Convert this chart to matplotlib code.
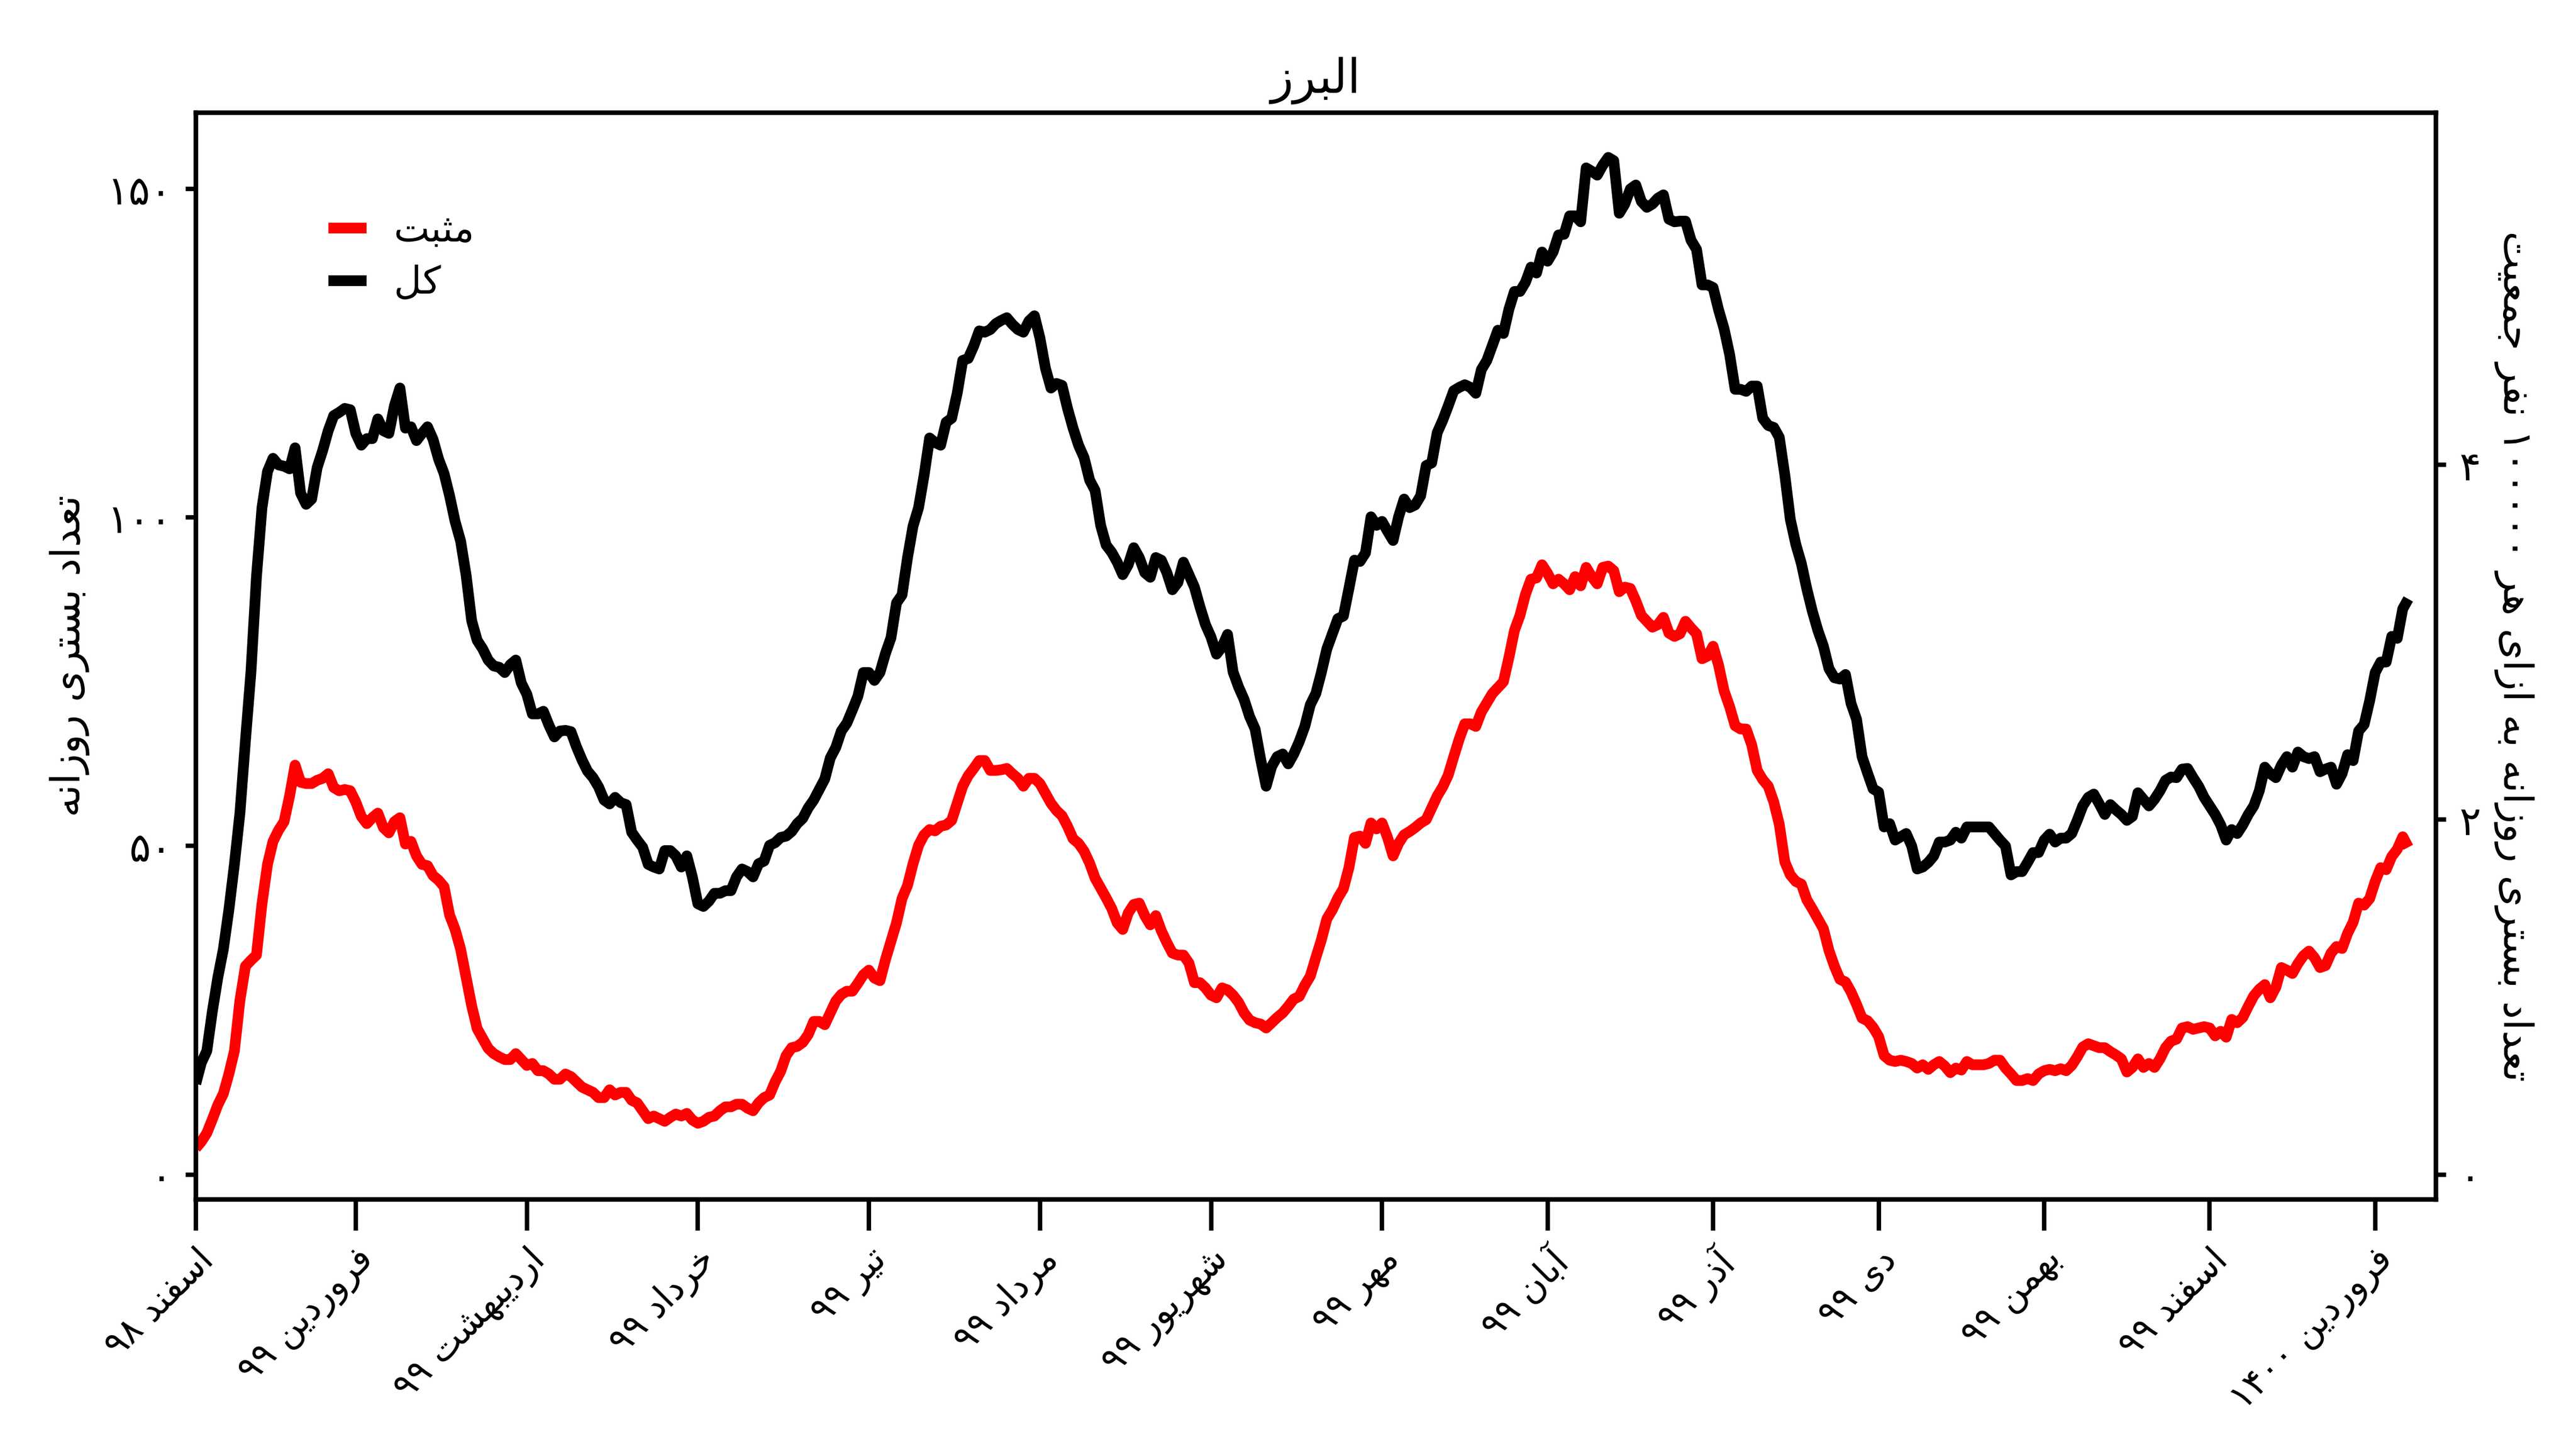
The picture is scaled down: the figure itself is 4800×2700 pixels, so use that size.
import numpy as np
import matplotlib
matplotlib.use("Agg")
import matplotlib.pyplot as plt
from matplotlib.ticker import FixedLocator, FixedFormatter

plt.rcParams['font.family'] = ['DejaVu Sans']

# ---------------- text ----------------
title_text = 'البرز'
ylabel_left = 'تعداد بستری روزانه'
ylabel_right = 'تعداد بستری روزانه به ازای هر ۱۰۰۰۰۰ نفر جمعیت'
legend_positive = 'مثبت'
legend_total = 'کل'
month_labels = ['اسفند ۹۸', 'فروردین ۹۹', 'اردیبهشت ۹۹', 'خرداد ۹۹', 'تیر ۹۹',
                'مرداد ۹۹', 'شهریور ۹۹', 'مهر ۹۹', 'آبان ۹۹', 'آذر ۹۹', 'دی ۹۹',
                'بهمن ۹۹', 'اسفند ۹۹', 'فروردین ۱۴۰۰']
# day index (from 1 Esfand 1398) of each month start
month_start_day = [0, 29, 60, 91, 122, 153, 184, 215, 245, 275, 305, 335, 365, 395]

left_ticks = [0, 50, 100, 150]
right_ticks = [0, 2, 4]
per_100k_factor = 27  # population / 100000

# ---------------- data (daily, day 0 = 1 Esfand 1398) ----------------
total = [
    13.8, 17, 18.8, 24.8, 30, 34.3, 40.3, 47.2, 55, 66,
    76.5, 91, 101.5, 107, 109, 108, 107.8, 107.4, 110.6, 103.7,
    102, 102.8, 107.6, 110.2, 113.2, 115.5, 116, 116.6, 116.4, 112.8,
    111, 112, 112, 115, 113.2, 112.8, 117, 119.7, 113.6, 113.8,
    111.7, 112.8, 113.8, 111.9, 108.9, 106.7, 103.3, 99.4, 96.4, 91.2,
    84.3, 81.3, 80, 78.3, 77.4, 77.2, 76.4, 77.6, 78.3, 74.8,
    73.1, 70.1, 70.1, 70.5, 68.4, 66.6, 67.5, 67.6, 67.4, 65.1,
    63.1, 61.4, 60.4, 59.0, 57.0, 56.4, 57.4, 56.6, 56.3, 52.1,
    50.9, 49.8, 47.2, 46.8, 46.5, 49.3, 49.3, 48.5, 46.8, 48.5,
    45.3, 41.2, 40.8, 41.6, 42.8, 42.8, 43.2, 43.2, 45.3, 46.5,
    46.1, 45.3, 47.3, 47.7, 50.1, 50.5, 51.3, 51.5, 52.2, 53.4,
    54.2, 55.8, 57, 58.6, 60.2, 63.4, 65, 67.5, 68.7, 70.7,
    72.8, 76.4, 76.4, 75.2, 76.4, 79.3, 81.7, 87, 88.2, 93.9,
    98.7, 101.5, 106.4, 112.1, 111.4, 111, 114.5, 115.1, 118.9, 123.9,
    124.2, 126.1, 128.4, 128.2, 128.6, 129.5, 130.0, 130.4, 129.4, 128.6, 128.2,
    129.9, 130.7, 127.3, 122.7, 119.7, 120.4, 120.1, 116.6, 113.6, 111,
    109.1, 105.7, 104.1, 98.8, 95.8, 94.7, 93.2, 91.3, 92.8, 95.4,
    93.9, 91.6, 90.9, 93.9, 93.5, 91.6, 89, 90.1, 93.2, 91.3,
    89.4, 86.4, 83.7, 81.8, 79.2, 80.3, 82.2, 76.5, 74.2, 72.3,
    69.7, 67.8, 63.2, 59.1, 62.1, 63.6, 64, 62.5, 64, 65.9,
    68.2, 71.5, 73.2, 76.4, 80, 82.3, 84.6, 85, 89.2, 93.5,
    93.3, 94.6, 100.1, 98.8, 99.4, 97.9, 96.5, 100.1, 102.8, 101.5,
    101.9, 103.3, 107.9, 108.3, 112.9, 114.8, 117, 119.3, 119.8, 120.2,
    119.8, 118.9, 122.5, 123.9, 126.2, 128.5, 128, 131.7, 134.4, 134.4,
    135.8, 138.1, 137.2, 140.4, 139, 140.4, 143, 143.1, 145.9, 145.9,
    145, 153.2, 152.7, 152.1, 153.6, 154.8, 154.3, 146.3, 147.7, 150,
    150.6, 148.1, 147.2, 147.7, 148.6, 149.1, 145.4, 145, 145.1, 145.1,
    142.2, 140.8, 135.4, 135.4, 135, 131.6, 128.7, 124.8, 119.5, 119.5,
    119.2, 120, 120, 115.1, 114, 113.7, 112.2, 106.5, 99.7, 95.9,
    93, 89.1, 85.7, 82.8, 80.4, 77, 75.6, 75.4, 76.1, 71.7,
    69.3, 63.6, 61.1, 58.7, 58.2, 52.9, 53.4, 50.9, 51.4, 51.9,
    50, 46.5, 46.8, 47.5, 48.5, 50.6, 50.6, 50.9, 52.1, 51.2,
    52.9, 52.9, 52.9, 52.9, 52.9, 51.9, 50.9, 50, 45.6, 46.1, 46.1,
    47.5, 49, 49, 50.9, 51.8, 50.6, 51.2, 51.2, 51.9, 53.9,
    56.1, 57.4, 57.9, 56.4, 54.8, 56.3, 55.5, 54.8, 53.9, 54.5,
    58.1, 57.1, 56.1, 57.1, 58.4, 60, 60.5, 60.4, 61.7, 61.8,
    60.4, 59.1, 57.4, 56.1, 54.8, 53.2, 50.9, 52.5, 51.9, 53.2,
    54.8, 56.1, 58.4, 62, 61, 60.4, 62.3, 63.6, 62, 64.3,
    63.6, 63.3, 63.6, 61.3, 61.7, 62, 59.4, 61, 63.9, 63,
    67.5, 68.5, 72.1, 76.4, 78, 78, 81.9, 81.6, 86.1, 87.6,
]

positive = [
    4, 5, 6.3, 8.4, 10.6, 12.3, 15.3, 18.8, 26.5, 31.7,
    32.6, 33.4, 41.2, 47.2, 50.7, 52.4, 53.7, 57.6, 62.3, 59.7,
    59.5, 59.5, 60, 60.3, 61, 58.9, 58.4, 58.6, 58.4, 56.7,
    54.5, 53.4, 54.3, 55, 52.8, 52, 53.7, 54.3, 50.3, 50.7,
    48.5, 47.2, 47, 45.5, 44.8, 43.8, 39.5, 37.3, 34.3, 30,
    25.7, 22.2, 20.7, 19.2, 18.4, 17.9, 17.5, 17.5, 18.4, 17.5,
    16.6, 16.9, 15.8, 15.8, 15.3, 14.5, 14.5, 15.3, 14.9, 14.1,
    13.3, 12.9, 12.5, 11.7, 11.7, 12.9, 12.1, 12.5, 12.5, 11.3,
    10.9, 9.7, 8.5, 8.9, 8.5, 8.1, 8.7, 9.2, 8.9, 9.3,
    8.3, 7.8, 8.1, 8.7, 8.9, 9.7, 10.3, 10.3, 10.7, 10.7,
    10.1, 9.7, 10.9, 11.7, 12.1, 14.1, 15.7, 18.1, 19.3, 19.5,
    20.1, 21.3, 23.3, 23.3, 22.8, 24.6, 26.4, 27.4, 27.9, 27.9,
    29.1, 30.4, 31.1, 29.9, 29.5, 32.7, 35.5, 38.3, 42.0, 44.0,
    47.3, 50.1, 51.7, 52.5, 52.3, 53, 53.2, 53.9, 56.5, 59.1,
    60.7, 61.8, 63, 63, 61.5, 61.5, 61.6, 61.8, 61.0, 60.3, 59.1,
    60.3, 60.3, 59.5, 58.0, 56.5, 55.4, 54.6, 53.0, 51.1, 50.4,
    49.2, 47.4, 45.1, 43.6, 42.1, 40.5, 38.3, 37.3, 39.8, 41.1,
    41.3, 39.4, 38.0, 39.4, 37.1, 35.3, 33.7, 33.4, 33.4, 32.2,
    29.2, 29.2, 28.4, 27.3, 26.9, 28.4, 28.1, 27.3, 26.2, 24.6,
    23.5, 23.1, 22.9, 22.3, 23.1, 23.9, 24.6, 25.6, 26.7, 27.1,
    28.8, 30.2, 33, 35.7, 38.9, 40.3, 42.1, 43.5, 46.7, 51.3,
    51.5, 50.4, 53.5, 52.6, 53.5, 51.3, 48.5, 50.4, 51.7, 52.2,
    52.8, 53.5, 54, 55.8, 57.6, 59, 60.8, 63.6, 66.3, 68.6,
    68.6, 68.2, 70.4, 71.8, 73.2, 74.1, 75, 78.7, 82.8, 85.1,
    88.3, 90.6, 90.8, 92.8, 91.5, 89.9, 90.6, 89.9, 89, 91,
    89.6, 92.4, 91, 89.9, 92.4, 92.6, 91.9, 88.7, 89.4, 89.2,
    87.3, 85.1, 84.2, 83.3, 83.7, 84.8, 82.4, 81.9, 82.3, 84.2,
    83.2, 82.3, 78.5, 78.9, 80.4, 77.5, 73.6, 71.2, 68.3, 67.8,
    67.8, 65.4, 61.5, 60.1, 59.1, 56.7, 53.3, 47.6, 45.6, 44.6,
    44.2, 41.8, 40.4, 38.9, 37.4, 34.1, 31.7, 29.7, 29.3, 27.8,
    25.9, 23.8, 23.4, 22.4, 21, 18.1, 17.4, 17.2, 17.4, 17.2,
    16.9, 16.2, 16.7, 16, 16.7, 17.2, 16.5, 15.5, 16.2, 15.9,
    17.2, 16.7, 16.7, 16.7, 16.9, 17.4, 17.4, 16.2, 15.3, 14.3, 14.3,
    14.6, 14.3, 15.3, 15.8, 16, 15.8, 16.1, 15.8, 16.6, 17.9,
    19.4, 19.9, 19.6, 19.3, 19.3, 18.7, 18.2, 17.6, 15.6, 16.3,
    17.6, 16.3, 16.9, 16.3, 17.6, 19.3, 20.3, 20.6, 22.3, 22.5,
    22.1, 22.3, 22.5, 22.3, 21.1, 21.8, 20.9, 23.6, 23.1, 23.9,
    25.6, 27.2, 28.2, 28.9, 26.9, 28.5, 31.5, 31.1, 30.6, 32.1,
    33.3, 34, 33, 31.5, 31.8, 33.7, 34.7, 34.4, 36.7, 38.4,
    41.3, 41, 42, 44.6, 46.7, 46.4, 48.4, 49.5, 51.4, 49.8,
]

# ---------------- minimal Persian shaping + RTL ordering ----------------
FORMS = {  # isolated, final, initial, medial
    '\u0622': ('\uFE81', '\uFE82', None, None),
    '\u0627': ('\uFE8D', '\uFE8E', None, None),
    '\u0628': ('\uFE8F', '\uFE90', '\uFE91', '\uFE92'),
    '\u062A': ('\uFE95', '\uFE96', '\uFE97', '\uFE98'),
    '\u062B': ('\uFE99', '\uFE9A', '\uFE9B', '\uFE9C'),
    '\u062C': ('\uFE9D', '\uFE9E', '\uFE9F', '\uFEA0'),
    '\u062E': ('\uFEA5', '\uFEA6', '\uFEA7', '\uFEA8'),
    '\u062F': ('\uFEA9', '\uFEAA', None, None),
    '\u0630': ('\uFEAB', '\uFEAC', None, None),
    '\u0631': ('\uFEAD', '\uFEAE', None, None),
    '\u0632': ('\uFEAF', '\uFEB0', None, None),
    '\u0633': ('\uFEB1', '\uFEB2', '\uFEB3', '\uFEB4'),
    '\u0634': ('\uFEB5', '\uFEB6', '\uFEB7', '\uFEB8'),
    '\u0639': ('\uFEC9', '\uFECA', '\uFECB', '\uFECC'),
    '\u0641': ('\uFED1', '\uFED2', '\uFED3', '\uFED4'),
    '\u0644': ('\uFEDD', '\uFEDE', '\uFEDF', '\uFEE0'),
    '\u0645': ('\uFEE1', '\uFEE2', '\uFEE3', '\uFEE4'),
    '\u0646': ('\uFEE5', '\uFEE6', '\uFEE7', '\uFEE8'),
    '\u0647': ('\uFEE9', '\uFEEA', '\uFEEB', '\uFEEC'),
    '\u0648': ('\uFEED', '\uFEEE', None, None),
    '\u06A9': ('\uFB8E', '\uFB8F', '\uFB90', '\uFB91'),
    '\u06CC': ('\uFBFC', '\uFBFD', '\uFBFE', '\uFBFF'),
}


def shape_word(word):
    out = []
    n = len(word)
    for i, c in enumerate(word):
        if c not in FORMS:
            out.append(c)
            continue
        iso, fin, ini, med = FORMS[c]
        prev = word[i - 1] if i > 0 else None
        nxt = word[i + 1] if i < n - 1 else None
        jp = prev in FORMS and FORMS[prev][2] is not None
        jn = (nxt in FORMS) and ini is not None
        if jp and jn:
            out.append(med)
        elif jp:
            out.append(fin)
        elif jn:
            out.append(ini)
        else:
            out.append(iso)
    return ''.join(out)


def rtl(text):
    vis = []
    for tok in text.split(' '):
        if any(ch in FORMS for ch in tok):
            vis.append(shape_word(tok)[::-1])
        else:
            vis.append(tok)
    return ' '.join(reversed(vis))


FA = str.maketrans('0123456789', '۰۱۲۳۴۵۶۷۸۹')


def fa_num(v):
    return str(v).translate(FA)


# ---------------- plot ----------------
days = np.arange(len(total))

fig = plt.figure(figsize=(16, 9), dpi=300)
ax = fig.add_axes([0.0760, 0.1722, 0.8696, 0.7500])

lw = 4.8
ax.plot(days, positive, color='#ff0000', lw=lw, solid_capstyle='butt',
        label=rtl(legend_positive))
ax.plot(days, total, color='#000000', lw=lw, solid_capstyle='butt',
        label=rtl(legend_total))

ylim = (-3.8, 161.6)
ax.set_xlim(0, 406)
ax.set_ylim(*ylim)

ax.yaxis.set_major_locator(FixedLocator(left_ticks))
ax.yaxis.set_major_formatter(FixedFormatter([fa_num(t) for t in left_ticks]))
ax.xaxis.set_major_locator(FixedLocator(month_start_day))
ax.xaxis.set_major_formatter(FixedFormatter([rtl(m) for m in month_labels]))

for sp in ax.spines.values():
    sp.set_linewidth(2.0)

ax.tick_params(axis='y', which='major', length=4.5, width=2.0, labelsize=18, pad=6)
ax.tick_params(axis='x', which='major', length=14, width=2.0, labelsize=16, pad=5)
for lab in ax.get_xticklabels():
    lab.set_rotation(45)
    lab.set_ha('right')
    lab.set_va('top')
    lab.set_rotation_mode('anchor')

ax.set_title(rtl(title_text), fontsize=21, pad=9)
ax.set_ylabel(rtl(ylabel_left), fontsize=18, labelpad=8)

ax2 = ax.twinx()
ax2.set_ylim(ylim[0] / per_100k_factor, ylim[1] / per_100k_factor)
ax2.yaxis.set_major_locator(FixedLocator(right_ticks))
ax2.yaxis.set_major_formatter(FixedFormatter([fa_num(t) for t in right_ticks]))
ax2.tick_params(axis='y', which='major', length=4.5, width=2.0, labelsize=18, pad=6)
for sp in ax2.spines.values():
    sp.set_linewidth(2.0)
ax2.set_ylabel(rtl(ylabel_right), fontsize=18, rotation=270, labelpad=24)

leg = ax.legend(loc='upper left', bbox_to_anchor=(0.0592, 0.9081), frameon=False,
                fontsize=17, handlelength=1.0, handletextpad=0.72, labelspacing=0.4,
                borderpad=0, borderaxespad=0)

fig.savefig('out.png', dpi=300)
